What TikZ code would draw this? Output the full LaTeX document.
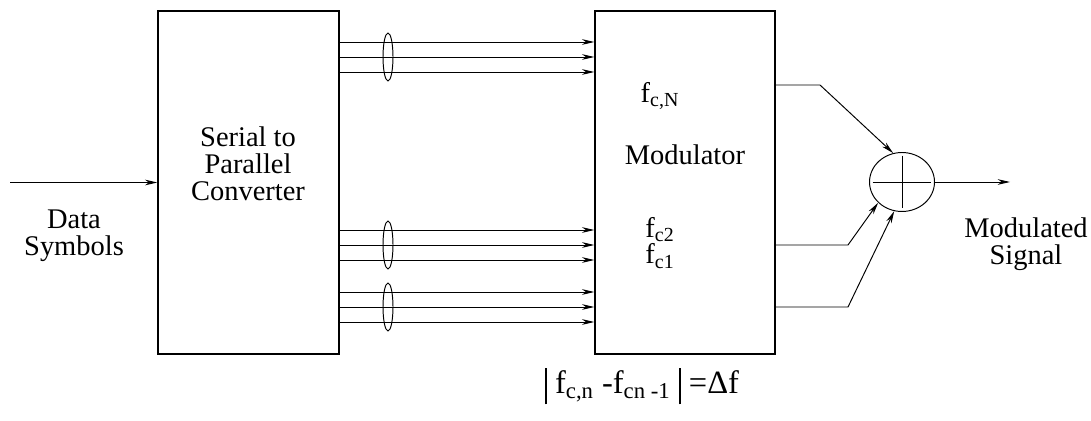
\documentclass[tikz,border=0pt]{standalone}
\usepackage{fontspec}
\setmainfont{Liberation Serif}
\usetikzlibrary{arrows.meta,shapes.geometric}
\tikzset{
  blk/.style={draw, line width=0.8pt, minimum width=3.62cm, minimum height=6.86cm},
  txt/.style={font=\fontsize{16.2}{15.4}\selectfont, align=center, inner sep=0pt},
  wire/.style={line width=0.55pt},
  sig/.style={wire, -{Stealth[length=7pt,width=3.2pt,inset=2.2pt]}},
}
\newcommand{\tallbar}{\rule[-6pt]{1.1pt}{21pt}}

\begin{document}
\begin{tikzpicture}[x=0.02cm, y=-0.02cm]
  \useasboundingbox (0,0) rectangle (1091,421);
  \node[blk] (s2p) at (248.5,182.5) {};
  \node[blk, minimum width=3.6cm] (mod) at (685,182.5) {};
  \node[draw, ellipse, wire, minimum width=1.3cm, minimum height=1.18cm] (sum) at (902,182) {};
  \draw[wire] ([yshift=-2pt]sum.north) -- ([yshift=2pt]sum.south);
  \draw[wire] ([xshift=2pt]sum.west) -- ([xshift=-2pt]sum.east);

  \node[txt] (s2ptxt) at (248,164) {Serial to\\Parallel\\Converter};
  \node[txt] (fcN) at (660,96) {f\textsubscript{c,N}};
  \node[txt] (modtxt) at (685,155) {Modulator};
  \node[txt, font=\fontsize{16.2}{12.6}\selectfont] (fcs) at (660,243)
    {f\textsubscript{c2}\\f\textsubscript{c1}};
  \node[txt] (data) at (74,236) {Data\\Symbols};
  \node[txt] (outtxt) at (1026,244) {Modulated\\Signal};
  \node[txt, font=\fontsize{18.5}{18}\selectfont] (spacing) at (642,386)
    {\tallbar\ f\textsubscript{c,n} -f\textsubscript{cn -1} \tallbar\ =Δf};

  \coordinate (in) at (10,182.5);
  \coordinate (out) at (1010,182);
  \draw[sig] (in) -- (s2p.west);
  \foreach \y in {42,57,72,230,245,260,292,307,322}
    \draw[sig] (s2p.east |- 0,\y) -- (mod.west |- 0,\y);
  \foreach \y in {57,245,307}
    \draw[wire] (388,\y) ellipse (0.1cm and 0.48cm);

  \coordinate (k1) at (820,85);
  \coordinate (k2) at (848,245);
  \coordinate (k3) at (848,307);
  \draw[sig] (mod.east |- k1) -- (k1) -- (sum.107);
  \draw[sig] (mod.east |- k2) -- (k2) -- (sum.221);
  \draw[sig] (mod.east |- k3) -- (k3) -- (sum.255);
  \draw[sig] (sum.east) -- (out);
\end{tikzpicture}
\end{document}
